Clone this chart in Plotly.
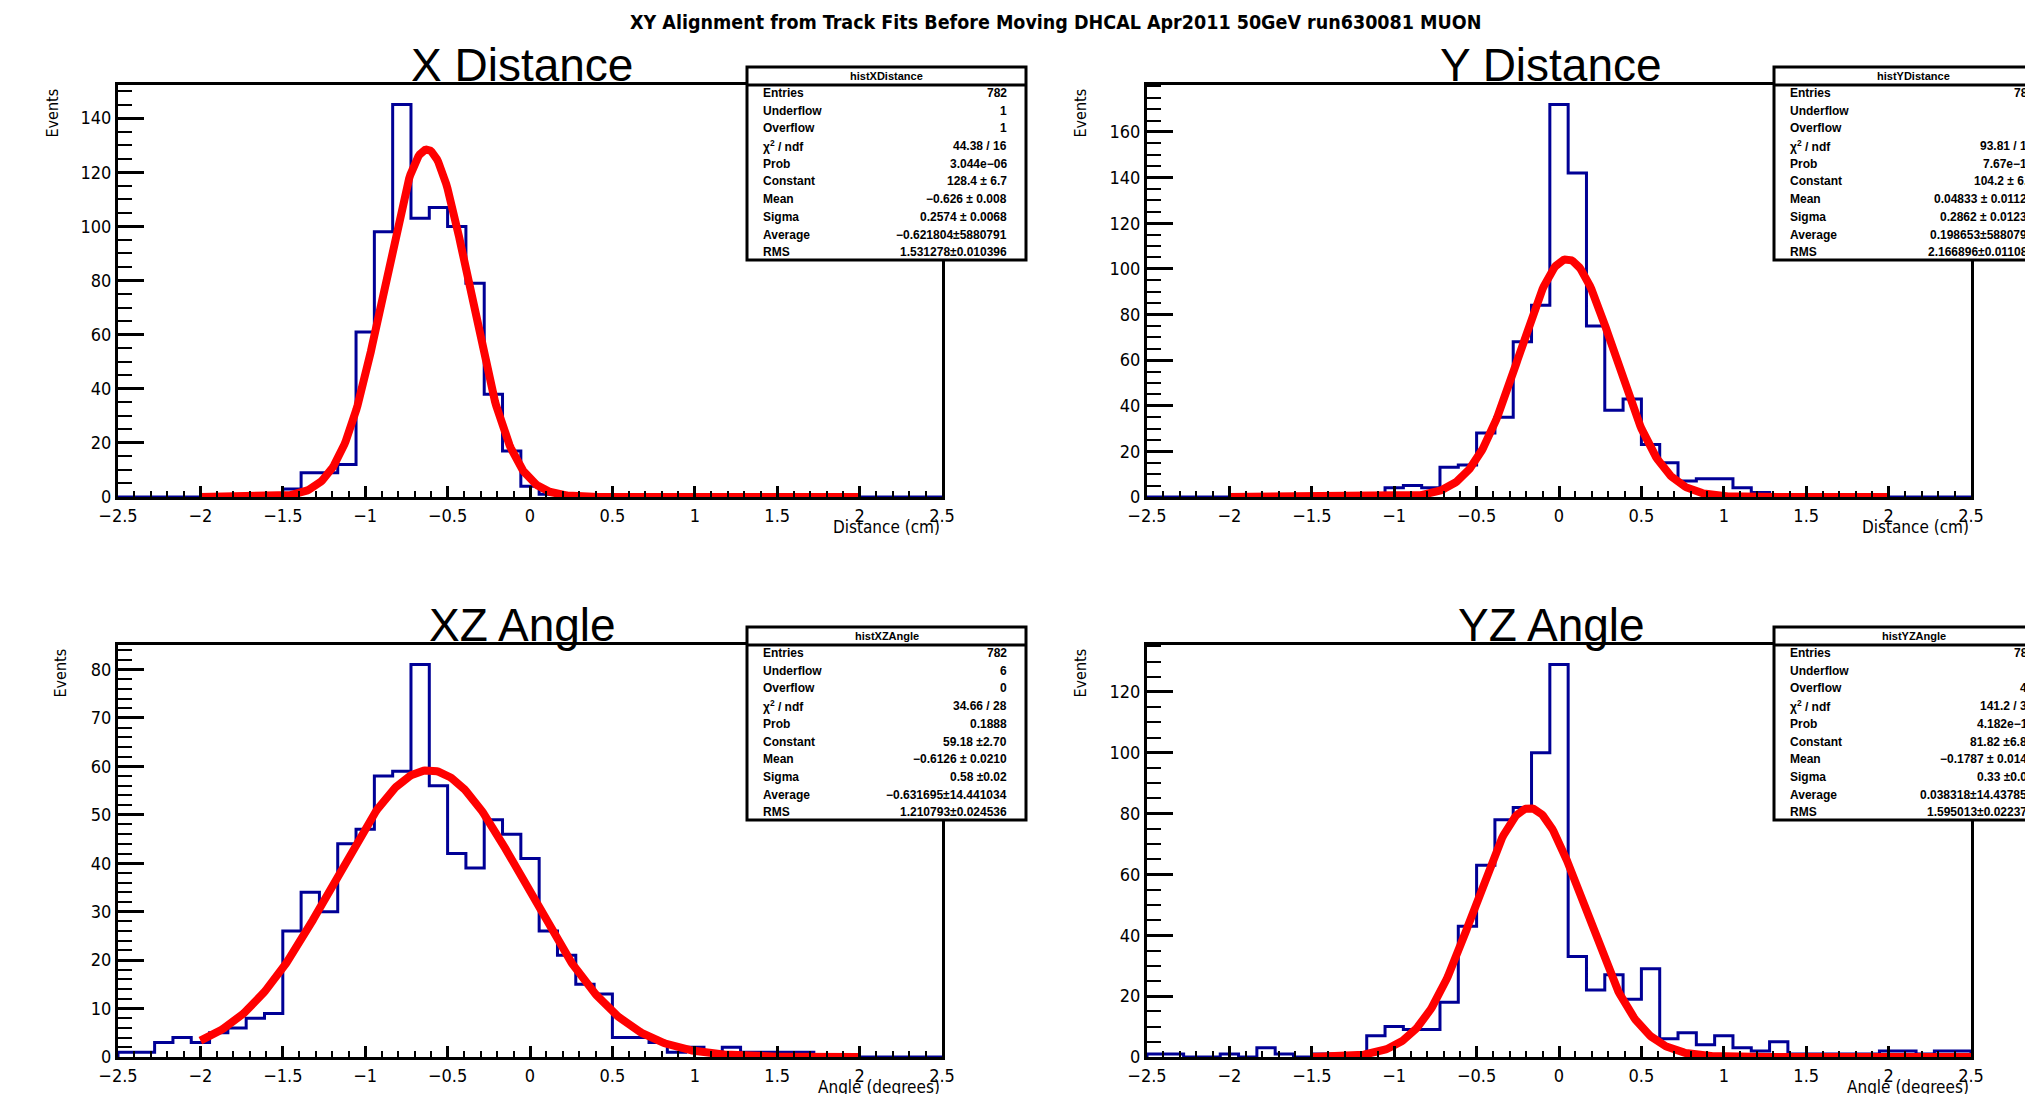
import numpy as np
import plotly.graph_objects as go

W, H = 2033, 1094

# ---------------- data ----------------
bin_low, bin_high, n_bins = -2.5, 2.5, 45

x_dist_counts = [0, 0, 0, 0, 0, 0, 0, 0, 0, 3, 9, 9, 12, 61, 98, 145, 103, 107, 100, 79, 38, 17, 4, 1,
                 0, 0, 0, 0, 0, 0, 0, 0, 0, 0, 0, 0, 0, 0, 0, 0, 0, 0, 0, 0, 0]
y_dist_counts = [0, 0, 0, 0, 0, 0, 0, 0, 0, 0, 0, 0, 0, 4, 5, 4, 13, 14, 28, 35, 68, 84, 172, 142, 75,
                 38, 43, 23, 15, 7, 8, 8, 4, 2, 1, 1, 0, 0, 0, 0, 0, 0, 0, 0, 0]
xz_angle_counts = [1, 1, 3, 4, 3, 5, 6, 8, 9, 26, 34, 30, 44, 47, 58, 59, 81, 56, 42, 39, 49, 46, 41,
                   26, 21, 15, 13, 4, 4, 3, 1, 2, 1, 2, 1, 1, 1, 1, 0, 0, 0, 0, 0, 0, 0]
yz_angle_counts = [1, 1, 0, 0, 1, 0, 3, 1, 0, 1, 1, 0, 7, 10, 9, 9, 18, 43, 63, 78, 82, 100, 129,
                   33, 22, 27, 19, 29, 6, 8, 4, 7, 3, 2, 5, 1, 1, 1, 1, 1, 2, 2, 1, 2, 2]

# gaussian fit parameters (constant, mean, sigma) and fit ranges
fit_params = {
    "x": (128.4, -0.626, 0.2574),
    "y": (104.2, 0.04833, 0.2862),
    "xz": (59.18, -0.6126, 0.58),
    "yz": (81.82, -0.1787, 0.33),
}
fit_ranges = {"x": (-2.0, 2.0), "y": (-2.0, 2.0), "xz": (-2.0, 2.0), "yz": (-1.5, 2.5)}

panel_titles = ["X Distance", "Y Distance", "XZ Angle", "YZ Angle"]
x_titles = ["Distance (cm)", "Distance (cm)", "Angle (degrees)", "Angle (degrees)"]
hist_names = ["histXDistance", "histYDistance", "histXZAngle", "histYZAngle"]

x_tickvals = [-2.5, -2, -1.5, -1, -0.5, 0, 0.5, 1, 1.5, 2, 2.5]
x_ticktext = ["\u22122.5", "\u22122", "\u22121.5", "\u22121", "\u22120.5", "0", "0.5", "1", "1.5", "2", "2.5"]

y_tickvals_x = [0, 20, 40, 60, 80, 100, 120, 140]
y_tickvals_y = [0, 20, 40, 60, 80, 100, 120, 140, 160]
y_tickvals_xz = [0, 10, 20, 30, 40, 50, 60, 70, 80]
y_tickvals_yz = [0, 20, 40, 60, 80, 100, 120]

stat_labels = ["Entries", "Underflow", "Overflow", "\u03c7<sup>2</sup> / ndf", "Prob", "Constant",
               "Mean", "Sigma", "Average", "RMS"]
stat_x = ["782", "1", "1", "44.38 / 16", "3.044e\u221206", "128.4 \u00b1 6.7", "\u22120.626 \u00b1 0.008",
          "0.2574 \u00b1 0.0068", "\u22120.621804\u00b15880791", "1.531278\u00b10.010396"]
stat_y = ["782", "1", "5", "93.81 / 16", "7.67e\u221213", "104.2 \u00b1 6.3", "0.04833 \u00b1 0.01123",
          "0.2862 \u00b1 0.01233", "0.198653\u00b15880791", "2.166896\u00b10.011083"]
stat_xz = ["782", "6", "0", "34.66 / 28", "0.1888", "59.18 \u00b12.70", "\u22120.6126 \u00b1 0.0210",
           "0.58 \u00b10.02", "\u22120.631695\u00b114.441034", "1.210793\u00b10.024536"]
stat_yz = ["782", "3", "40", "141.2 / 32", "4.182e\u221214", "81.82 \u00b16.80", "\u22120.1787 \u00b1 0.0144",
           "0.33 \u00b10.01", "0.038318\u00b114.437854", "1.595013\u00b10.022379"]

# ---------------- layout helpers ----------------
OFF = 8  # page body margin offset


def xp(px):
    return (px - OFF) / W


def yp(py):
    return 1 - (py - OFF) / H


NARROW = "Liberation Sans Narrow, Arial Narrow, DejaVu Sans Condensed, Liberation Sans, Arial, sans-serif"
SANS = "Liberation Sans, Arial, sans-serif"

# panel frames in screen pixels: left, right, top, bottom
panels = [(118, 942, 85, 497), (1147, 1971, 85, 497), (118, 942, 645, 1057), (1147, 1971, 645, 1057)]
keys = ["x", "y", "xz", "yz"]
counts_all = [x_dist_counts, y_dist_counts, xz_angle_counts, yz_angle_counts]
stats_all = [stat_x, stat_y, stat_xz, stat_yz]
y_tickvals_all = [y_tickvals_x, y_tickvals_y, y_tickvals_xz, y_tickvals_yz]
y_minor = [5, 5, 2, 5]

edges = np.linspace(bin_low, bin_high, n_bins + 1)

fig = go.Figure()
layout = dict(
    width=W, height=H, margin=dict(l=0, r=0, t=0, b=0, autoexpand=False),
    paper_bgcolor="white", plot_bgcolor="white", showlegend=False,
)
annotations = []
shapes = []

for i in range(4):
    n = i + 1
    sfx = "" if n == 1 else str(n)
    counts = counts_all[i]
    l, r, t, b = panels[i]
    ymax = 1.05 * max(counts)

    hx = [edges[0]] + list(edges[:-1]) + [edges[-1]]
    hy = [0] + list(counts) + [0]
    fig.add_trace(go.Scatter(x=hx, y=hy, mode="lines", line=dict(color="#000096", width=3, shape="hv"),
                             xaxis="x" + sfx, yaxis="y" + sfx, hoverinfo="skip"))
    c, m, s = fit_params[keys[i]]
    f0, f1 = fit_ranges[keys[i]]
    fx = np.linspace(f0, f1, 500)
    fy = c * np.exp(-0.5 * ((fx - m) / s) ** 2)
    fig.add_trace(go.Scatter(x=fx, y=fy, mode="lines", line=dict(color="#FF0000", width=8),
                             xaxis="x" + sfx, yaxis="y" + sfx, hoverinfo="skip"))

    layout["xaxis" + sfx] = dict(
        domain=[xp(l), xp(r)], range=[bin_low, bin_high], anchor="y" + sfx, automargin=False,
        showline=True, mirror=True, linecolor="black", linewidth=3,
        ticks="inside", ticklen=11, tickwidth=2.5, tickcolor="black",
        tickmode="array", tickvals=x_tickvals, ticktext=x_ticktext,
        tickfont=dict(family=NARROW, size=18, color="black"),
        minor=dict(ticks="inside", ticklen=6, tickwidth=2, tickcolor="black", dtick=0.1, tick0=-2.5,
                   showgrid=False),
        showgrid=False, zeroline=False,
    )
    layout["yaxis" + sfx] = dict(
        domain=[yp(b), yp(t)], range=[0, ymax], anchor="x" + sfx, automargin=False,
        showline=True, mirror=True, linecolor="black", linewidth=3,
        ticks="inside", ticklen=26, tickwidth=2.5, tickcolor="black",
        tickmode="array", tickvals=y_tickvals_all[i],
        tickfont=dict(family=NARROW, size=18, color="black"),
        minor=dict(ticks="inside", ticklen=14, tickwidth=2, tickcolor="black", dtick=y_minor[i], tick0=0,
                   showgrid=False),
        showgrid=False, zeroline=False,
    )

    # panel title
    annotations.append(dict(text=panel_titles[i], x=xp(l + 404), y=yp(t - 20), xref="paper", yref="paper",
                            xanchor="center", yanchor="middle", showarrow=False,
                            font=dict(family=SANS, size=46, color="black")))
    # axis titles
    annotations.append(dict(text=x_titles[i], x=xp(r), y=yp(b + 30), xref="paper", yref="paper",
                            xanchor="right", yanchor="middle", showarrow=False,
                            font=dict(family=NARROW, size=17, color="black")))
    ev_x = [52, 1080, 60, 1080][i]
    annotations.append(dict(text="Events", x=xp(ev_x), y=yp(t + 2), xref="paper", yref="paper",
                            xanchor="center", yanchor="top", textangle=-90, showarrow=False,
                            font=dict(family=NARROW, size=16, color="black")))

    # stat box
    bl = [747, 1774, 747, 1774][i]
    br = bl + 279
    bt = t - 18
    bb = t + 175
    shapes.append(dict(type="rect", xref="paper", yref="paper", x0=xp(bl), x1=xp(br), y0=yp(bb), y1=yp(bt),
                       line=dict(color="black", width=3), fillcolor="white", layer="above"))
    shapes.append(dict(type="line", xref="paper", yref="paper", x0=xp(bl), x1=xp(br), y0=yp(t), y1=yp(t),
                       line=dict(color="black", width=3), layer="above"))
    annotations.append(dict(text="<b>" + hist_names[i] + "</b>", x=xp((bl + br) / 2), y=yp(bt + 9),
                            xref="paper", yref="paper", xanchor="center", yanchor="middle", showarrow=False,
                            font=dict(family=SANS, size=11, color="black")))
    for j, (lab, val) in enumerate(zip(stat_labels, stats_all[i])):
        ry = t + 8 + j * 17.7
        annotations.append(dict(text="<b>" + lab + "</b>", x=xp(bl + 14), y=yp(ry), xref="paper", yref="paper",
                                xanchor="left", yanchor="middle", showarrow=False,
                                font=dict(family=SANS, size=12, color="black")))
        annotations.append(dict(text="<b>" + val + "</b>", x=xp(br - 17), y=yp(ry), xref="paper", yref="paper",
                                xanchor="right", yanchor="middle", showarrow=False,
                                font=dict(family=SANS, size=12, color="black")))

annotations.append(dict(text="<b>XY Alignment from Track Fits Before Moving DHCAL Apr2011 50GeV run630081 MUON</b>",
                        x=xp(1055), y=yp(23), xref="paper", yref="paper", xanchor="center", yanchor="middle",
                        showarrow=False, font=dict(family=NARROW, size=19.5, color="black")))

layout["annotations"] = annotations
layout["shapes"] = shapes
fig.update_layout(**layout)
fig.write_html("out.html")
